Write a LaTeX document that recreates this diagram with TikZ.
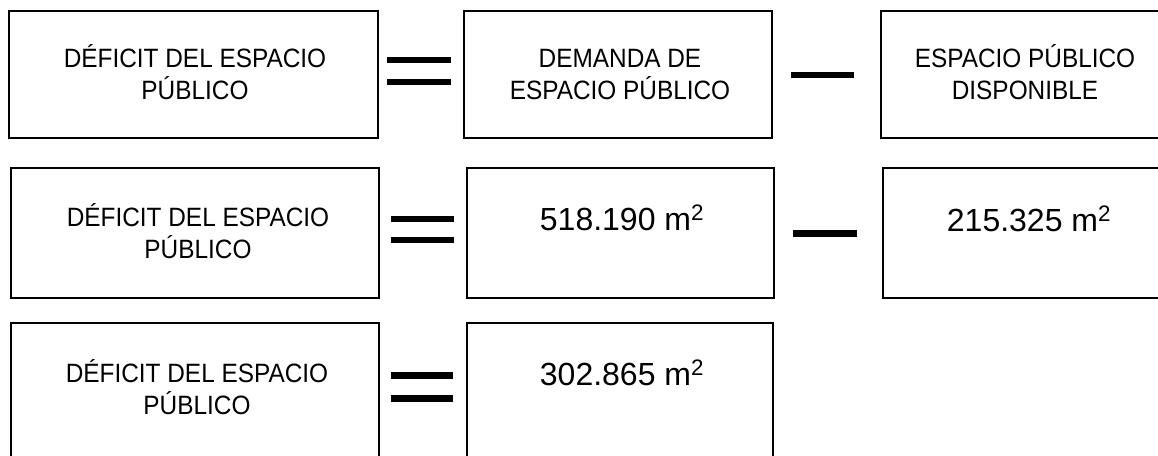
\documentclass[tikz,border=0pt]{standalone}
\usepackage{fontspec}
\setmainfont{Liberation Sans}
\newfontfamily\lblfont[FakeStretch=0.92]{Liberation Sans}
\usetikzlibrary{fit}
\begin{document}
\begin{tikzpicture}[x=1pt,y=-1pt,
  cell/.style={draw=black, line width=1.2pt, inner sep=0pt, outer sep=0pt},
  lbl/.style={font=\lblfont\fontsize{26.5}{32}\selectfont, align=center, inner sep=0pt, anchor=base},
  num/.style={font=\fontsize{32}{38}\selectfont, inner sep=0pt, anchor=base},
  bar/.style={line width=6.5pt}]
\useasboundingbox (0,0) rectangle (1158,455);
\clip (0,0) rectangle (1158,455);
% Row 1
\node[cell, fit={(9,11) (378,138)}] (b11) {};
\node[cell, fit={(464,11) (772,138)}] (b12) {};
\node[cell, fit={(881,11) (1180,138)}] (b13) {};
\node[lbl] (t11) at (195,99) {DÉFICIT DEL ESPACIO\\PÚBLICO};
\node[lbl] (t12) at (620,99) {DEMANDA DE\\ESPACIO PÚBLICO};
\node[lbl] (t13) at (1025,99) {ESPACIO PÚBLICO\\DISPONIBLE};
\draw[bar] (387,60) -- (451,60);
\draw[bar] (387,82) -- (451,82);
\draw[bar] (791,75) -- (854,75);
% Row 2
\node[cell, fit={(11,168) (379,298)}] (b21) {};
\node[cell, fit={(467,168) (774,298)}] (b22) {};
\node[cell, fit={(883,168) (1180,298)}] (b23) {};
\node[lbl] (t21) at (198,258) {DÉFICIT DEL ESPACIO\\PÚBLICO};
\node[num] (t22) at (622,230) {518.190 m\textsuperscript{2}};
\node[num] (t23) at (1029,231) {215.325 m\textsuperscript{2}};
\draw[bar] (391,219) -- (454,219);
\draw[bar] (391,240) -- (454,240);
\draw[bar] (793,233.5) -- (857,233.5);
% Row 3
\node[cell, fit={(11,323) (379,470)}] (b31) {};
\node[cell, fit={(467,323) (773,470)}] (b32) {};
\node[lbl] (t31) at (197,414) {DÉFICIT DEL ESPACIO\\PÚBLICO};
\node[num] (t32) at (622,385) {302.865 m\textsuperscript{2}};
\draw[bar] (391,375.5) -- (453,375.5);
\draw[bar] (391,398.5) -- (453,398.5);
\end{tikzpicture}
\end{document}
